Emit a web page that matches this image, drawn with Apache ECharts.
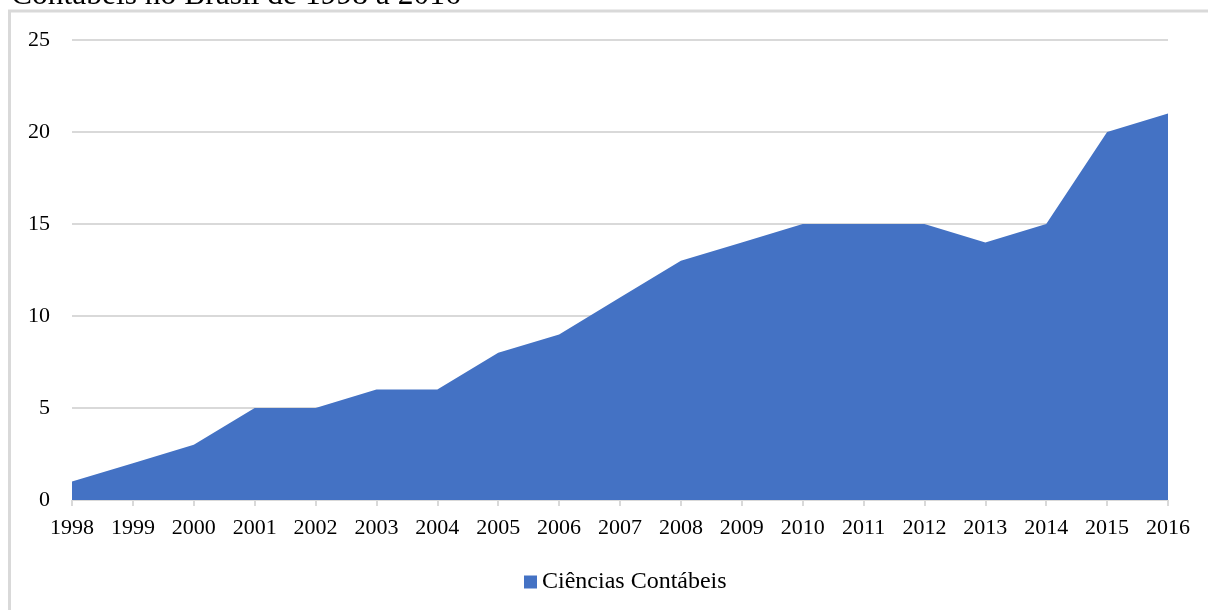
<!DOCTYPE html>
<html><head><meta charset="utf-8">
<script src="https://cdn.jsdelivr.net/npm/echarts@6/dist/echarts.min.js"></script>
<style>html,body{margin:0;padding:0;background:#fff}#c{width:1208px;height:610px}</style>
</head><body><div id="c"></div>
<script>
const years = ['1998','1999','2000','2001','2002','2003','2004','2005','2006','2007','2008','2009','2010','2011','2012','2013','2014','2015','2016'];
const values = [1,2,3,5,5,6,6,8,9,11,13,14,15,15,15,14,15,20,21];
const seriesName = 'Ciências Contábeis';
const titleText = 'Contábeis no Brasil de 1998 a 2016';
const font = 'Liberation Serif';
const chart = echarts.init(document.getElementById('c'), null, {renderer:'canvas'});
chart.setOption({
  animation:false,
  backgroundColor:'#fff',
  graphic:[
    {type:'rect', z:-1, shape:{x:9.5,y:11,width:1400,height:800}, style:{fill:'none',stroke:'#d9d9d9',lineWidth:3}},
    {type:'text', z:10, x:11, y:12, style:{text:titleText, fontFamily:font, fontSize:31.5, fill:'#000', verticalAlign:'bottom'}}
  ],
  grid:{left:72,right:40,top:40,bottom:110,containLabel:false},
  legend:{bottom:11,left:519,itemWidth:13,itemHeight:13,itemGap:5,icon:'rect',
    textStyle:{fontFamily:font,fontSize:24,color:'#000'}, data:[seriesName]},
  xAxis:{type:'category',data:years,boundaryGap:false,
    axisLine:{show:true,lineStyle:{color:'#d9d9d9',width:1}},
    axisTick:{show:true,alignWithLabel:true,length:6,lineStyle:{color:'#d9d9d9',width:2}},
    axisLabel:{fontFamily:font,fontSize:22,color:'#000',margin:17,interval:0}},
  yAxis:{type:'value',min:0,max:25,interval:5,
    axisLine:{show:false},axisTick:{show:false},
    axisLabel:{fontFamily:font,fontSize:22,color:'#000',margin:22},
    splitLine:{lineStyle:{color:'#d9d9d9',width:2}}},
  series:[{name:seriesName,type:'line',data:values,symbol:'none',
    lineStyle:{width:0,color:'#4472C4'},itemStyle:{color:'#4472C4'},
    areaStyle:{color:'#4472C4',opacity:1}}]
});
</script></body></html>
